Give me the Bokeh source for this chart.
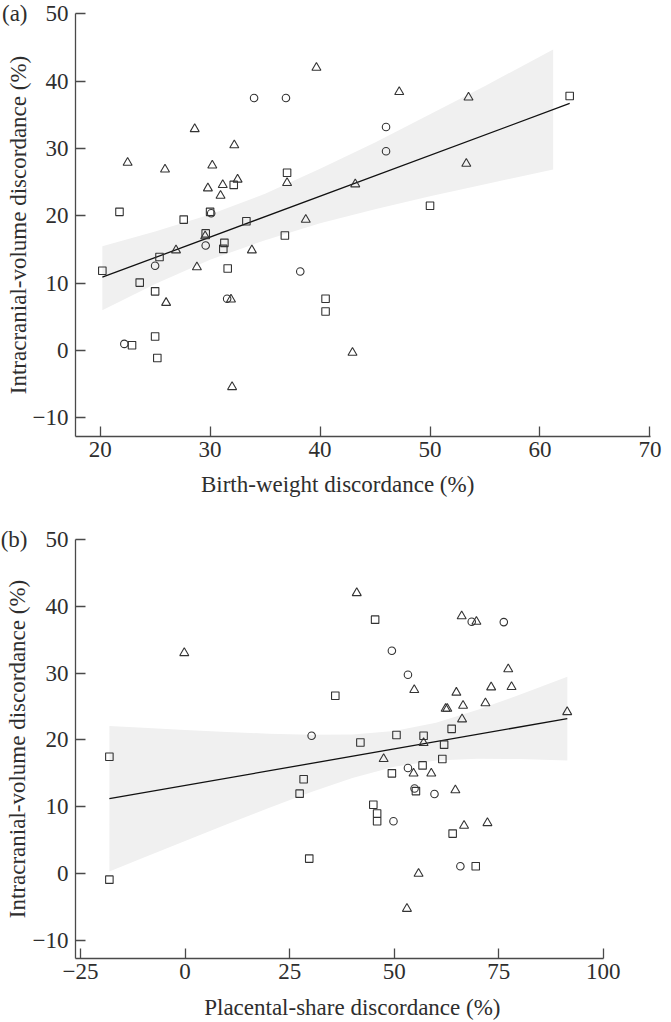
from bokeh.plotting import figure
from bokeh.models import Range1d, FixedTicker, LinearAxis
from bokeh.layouts import column
from bokeh.embed import file_html
from bokeh.resources import INLINE

# ---------------- Panel (a): birth-weight discordance ----------------
a_circ_x = [34.0, 36.9, 46.0, 46.0, 30.1, 29.6, 25.0, 38.2, 31.55, 22.2]
a_circ_y = [37.5, 37.5, 33.2, 29.6, 20.4, 15.6, 12.6, 11.75, 7.7, 1.0]
a_sq_x = [62.7, 37.0, 32.15, 21.76, 30.0, 27.6, 33.3, 29.6, 36.8, 31.3, 31.2,
          25.4, 31.6, 20.2, 23.6, 25.0, 50.0, 40.5, 40.5, 25.0, 22.9, 25.2]
a_sq_y = [37.8, 26.4, 24.6, 20.6, 20.6, 19.45, 19.2, 17.4, 17.1, 16.0, 15.1,
          13.9, 12.2, 11.85, 10.1, 8.8, 21.5, 7.7, 5.8, 2.1, 0.8, -1.1]
a_tri_x = [39.67, 47.2, 53.5, 28.6, 32.2, 22.5, 30.2, 53.3, 25.9, 32.5, 37.0, 43.2,
           31.15, 29.8, 30.95, 38.7, 29.55, 26.9, 33.8, 28.8, 31.9, 26.0, 42.95, 32.0]
a_tri_y = [42.0, 38.4, 37.6, 32.9, 30.5, 27.9, 27.5, 27.75, 26.9, 25.4, 24.9, 24.7,
           24.6, 24.1, 23.0, 19.45, 17.0, 14.9, 14.9, 12.4, 7.6, 7.1, -0.3, -5.4]
a_fit_x = [20.2, 62.7]
a_fit_y = [10.9, 36.7]
a_band_x = [20.2, 25.0, 30.0, 35.0, 40.0, 45.0, 50.0, 55.0, 61.2]
a_band_lo = [6.0, 9.9, 13.5, 16.4, 18.9, 21.0, 22.9, 24.7, 26.9]
a_band_hi = [15.5, 17.7, 20.2, 23.3, 27.0, 30.9, 35.1, 39.3, 44.7]
a_xticks = [20, 30, 40, 50, 60, 70]
a_xlabel = "Birth-weight discordance (%)"

# ---------------- Panel (b): placental-share discordance ----------------
b_circ_x = [68.54, 76.21, 49.45, 53.29, 30.26, 53.29, 54.87, 59.64, 49.83, 65.83]
b_circ_y = [37.73, 37.67, 33.38, 29.78, 20.64, 15.81, 12.74, 11.9, 7.81, 1.08]
b_sq_x = [45.44, 35.92, 41.92, 63.74, 50.55, 57.03, 61.94, 61.51, 56.79, 49.45, 55.2,
          45.01, 45.92, 45.92, 63.98, 69.5, -18.1, -18.1, 28.35, 27.39, 29.69]
b_sq_y = [38.04, 26.62, 19.63, 21.67, 20.74, 20.64, 19.3, 17.16, 16.19, 15.0, 12.34,
          10.3, 8.99, 7.81, 5.97, 1.08, 17.48, -0.93, 14.12, 11.96, 2.22]
b_tri_x = [41.05, -0.19, 66.14, 69.66, 77.27, 54.8, 64.87, 73.19, 78.06, 71.82, 66.47, 62.3,
           62.7, 66.23, 91.37, 57.03, 47.48, 54.63, 58.87, 64.63, 66.71, 72.3, 55.83, 53.05]
b_tri_y = [42.03, 33.04, 38.56, 37.73, 30.62, 27.51, 27.11, 27.9, 27.96, 25.53, 25.14, 24.7,
           24.7, 23.11, 24.19, 19.56, 17.16, 15.0, 15.0, 12.49, 7.16, 7.56, -0.04, -5.29]
b_fit_x = [-18.1, 91.4]
b_fit_y = [11.2, 23.2]
b_band_x = [-18.1, -10, 0, 10, 20, 30, 40, 50, 60, 70, 80, 91.4]
b_band_lo = [0.3, 2.35, 4.87, 7.36, 9.81, 12.15, 14.3, 15.99, 16.92, 17.2, 17.15, 16.91]
b_band_hi = [22.1, 21.83, 21.49, 21.2, 20.95, 20.79, 20.84, 21.35, 22.6, 24.52, 26.77, 29.49]
b_xticks = [-25, 0, 25, 50, 75, 100]
b_xlabel = "Placental-share discordance (%)"

y_ticks = [-10, 0, 10, 20, 30, 40, 50]
y_label = "Intracranial-volume discordance (%)"

FONT = "Liberation Serif"
TXT = "#2e2e2e"
AX = "#4a4a4a"
MK = "#333333"
FS = "23px"


def style_text(ax):
    ax.major_label_text_font = FONT
    ax.major_label_text_font_size = FS
    ax.major_label_text_color = TXT
    ax.axis_label_text_font = FONT
    ax.axis_label_text_font_size = FS
    ax.axis_label_text_font_style = "normal"
    ax.axis_label_text_color = TXT


def make_panel(xr, xticks, w, h, top, right, letter, xlabel, xlabel_at, xlabel_gap,
               cx, cy, sx, sy, tx, ty, fx, fy, bx, blo, bhi, overrides):
    p = figure(width=w, height=h, output_backend="svg", toolbar_location=None,
               x_range=Range1d(*xr), y_range=Range1d(-12.75, 50.05),
               min_border_left=75, min_border_right=right,
               min_border_top=top, min_border_bottom=62)
    p.outline_line_color = None
    p.xgrid.visible = False
    p.ygrid.visible = False
    p.background_fill_color = "white"
    p.border_fill_color = "white"

    p.varea(x=bx, y1=blo, y2=bhi, fill_color="#f0f0f0", fill_alpha=1.0)
    p.line(x=fx, y=fy, line_color="#111111", line_width=1.3)

    p.scatter(cx, cy, marker="circle", size=7.5, fill_color=None,
              line_color=MK, line_width=1.1)
    p.scatter(sx, sy, marker="square", size=7.5, fill_color=None,
              line_color=MK, line_width=1.1)
    p.scatter(tx, ty, marker="triangle", size=9, fill_color=None,
              line_color=MK, line_width=1.1)

    for ax in (p.xaxis[0], p.yaxis[0]):
        ax.axis_line_color = AX
        ax.axis_line_width = 1.3
        ax.major_tick_line_color = AX
        ax.major_tick_line_width = 1.3
        ax.major_tick_in = 10
        ax.major_tick_out = 0
        ax.minor_tick_out = 0
        ax.minor_tick_line_color = None
        style_text(ax)

    p.xaxis[0].ticker = FixedTicker(ticks=xticks)
    p.yaxis[0].ticker = FixedTicker(ticks=y_ticks)
    p.xaxis[0].major_label_standoff = 5
    p.yaxis[0].major_label_standoff = 7
    p.yaxis[0].major_label_overrides = {-10: "\u221210"}
    if overrides:
        p.xaxis[0].major_label_overrides = overrides

    # outer left axis: panel letter (level with the top tick) + y-axis title
    outer_y = LinearAxis(ticker=FixedTicker(ticks=[50]),
                         major_label_overrides={50: letter},
                         axis_label=y_label)
    outer_y.axis_line_color = None
    outer_y.major_tick_line_color = None
    outer_y.minor_tick_line_color = None
    outer_y.major_tick_in = 0
    outer_y.major_tick_out = 0
    outer_y.minor_tick_in = 0
    outer_y.minor_tick_out = 0
    outer_y.major_label_standoff = 2
    outer_y.axis_label_standoff = -32
    style_text(outer_y)
    p.add_layout(outer_y, "left")

    # outer bottom axis: x-axis title
    outer_x = LinearAxis(ticker=FixedTicker(ticks=[xlabel_at]),
                         major_label_overrides={xlabel_at: xlabel})
    outer_x.axis_line_color = None
    outer_x.major_tick_line_color = None
    outer_x.minor_tick_line_color = None
    outer_x.major_label_standoff = xlabel_gap
    style_text(outer_x)
    p.add_layout(outer_x, "below")
    return p


p1 = make_panel((17.76, 70.05), a_xticks, 670, 499, 13, 12, "(a)", a_xlabel, 41.6, 6,
                a_circ_x, a_circ_y, a_sq_x, a_sq_y, a_tri_x, a_tri_y,
                a_fit_x, a_fit_y, a_band_x, a_band_lo, a_band_hi, None)

p2 = make_panel((-26.2, 100.05), b_xticks, 623, 523, 40, 20, "(b)", b_xlabel, 40.0, 7,
                b_circ_x, b_circ_y, b_sq_x, b_sq_y, b_tri_x, b_tri_y,
                b_fit_x, b_fit_y, b_band_x, b_band_lo, b_band_hi, {-25: "\u221225"})

layout = column(p1, p2)

open("out.html", "w").write(file_html(layout, INLINE))
